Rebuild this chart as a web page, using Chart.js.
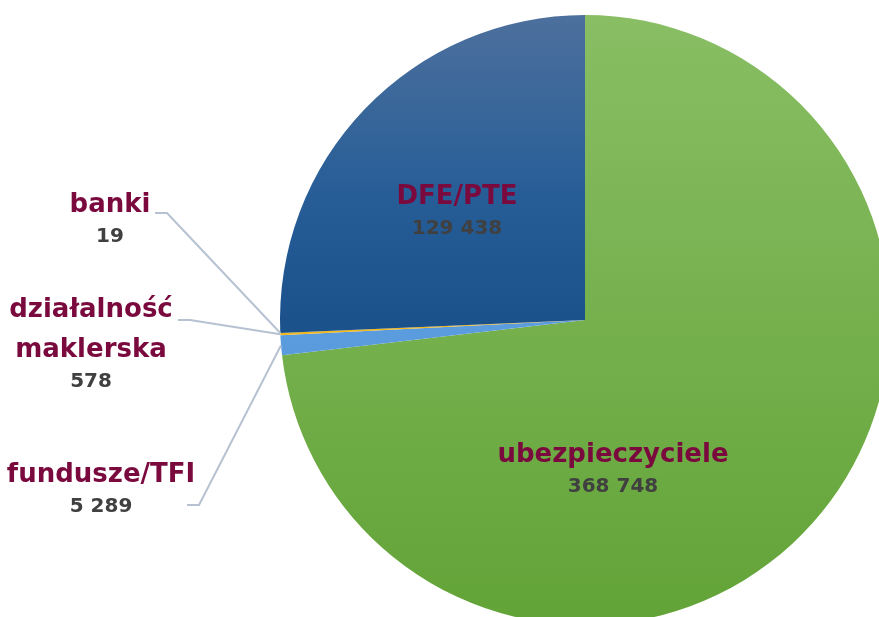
<!DOCTYPE html>
<html lang="pl">
<head>
<meta charset="UTF-8">
<title>Struktura</title>
<script src="https://cdn.jsdelivr.net/npm/chart.js"></script>
<style>
    html, body { margin: 0; padding: 0; background: #fff; overflow: hidden; width: 879px; height: 617px; }
    #wrap { position: absolute; left: 0; top: 0; width: 1170px; height: 640px; }
</style>
</head>
<body>
<div id="wrap"><canvas id="pie" width="1170" height="640"></canvas></div>
<script>
    // dane
    const kategorie = ['ubezpieczyciele', 'fundusze/TFI', 'działalność maklerska', 'banki', 'DFE/PTE'];
    const wartosci = [368748, 5289, 578, 19, 129438];

    // kolory: stopnie gradientu (od góry do dołu koła)
    const kolory = [
        [[0, '#89be64'], [1, '#62a337']],
        [[0, '#6aaae8'], [1, '#4d8fd6']],
        [[0, '#f5c02a'], [1, '#eeb010']],
        [[0, '#f5c02a'], [1, '#eeb010']],
        [[0, '#4d709d'], [0.3, '#265d97'], [0.5, '#1b528c'], [1, '#1b528c']]
    ];

    // etykiety: tekst, pozycja, czy z linią
    const etykiety = [
        { idx: 0, linie: ['ubezpieczyciele'], x: 613, y: 455, zew: false },
        { idx: 4, linie: ['DFE/PTE'], x: 457, y: 197, zew: false },
        { idx: 3, linie: ['banki'], x: 110, y: 205, zew: true, lx: 155, ly: 213, kx: 167 },
        { idx: 2, linie: ['działalność', 'maklerska'], x: 91, y: 310, zew: true, lx: 178, ly: 320, kx: 190 },
        { idx: 1, linie: ['fundusze/TFI'], x: 101, y: 475, zew: true, lx: 187, ly: 505, kx: 199 }
    ];

    function fmt(v) {
        return v.toString().replace(/\B(?=(\d{3})+(?!\d))/g, ' ');
    }

    const FONT = '"DejaVu Sans", sans-serif';

    const etykietyPlugin = {
        id: 'etykiety',
        afterDraw(chart) {
            const ctx = chart.ctx;
            const meta = chart.getDatasetMeta(0);
            ctx.save();
            ctx.textAlign = 'center';
            ctx.textBaseline = 'middle';
            etykiety.forEach(e => {
                const arc = meta.data[e.idx];
                if (e.zew) {
                    const mid = (arc.startAngle + arc.endAngle) / 2;
                    const px = arc.x + arc.outerRadius * Math.cos(mid);
                    const py = arc.y + arc.outerRadius * Math.sin(mid);
                    ctx.strokeStyle = '#b6c1d1';
                    ctx.lineWidth = 2;
                    ctx.beginPath();
                    ctx.moveTo(e.lx, e.ly);
                    ctx.lineTo(e.kx, e.ly);
                    ctx.lineTo(px, py);
                    ctx.stroke();
                }
                let y = e.y;
                ctx.fillStyle = '#7a0a3e';
                ctx.font = 'bold 26px ' + FONT;
                e.linie.forEach(t => {
                    ctx.fillText(t, e.x, y);
                    y += 40;
                });
                ctx.fillStyle = '#404040';
                ctx.font = 'bold 20px ' + FONT;
                ctx.fillText(fmt(wartosci[e.idx]), e.x, y - 40 + 32);
            });
            ctx.restore();
        }
    };

    new Chart(document.getElementById('pie'), {
        type: 'pie',
        data: {
            labels: kategorie,
            datasets: [{
                data: wartosci,
                borderWidth: 0,
                backgroundColor: (c) => {
                    const area = c.chart.chartArea;
                    const stops = kolory[c.dataIndex];
                    if (!area) return stops[stops.length - 1][1];
                    const g = c.chart.ctx.createLinearGradient(0, area.top, 0, area.bottom);
                    stops.forEach(s => g.addColorStop(s[0], s[1]));
                    return g;
                }
            }]
        },
        options: {
            responsive: false,
            animation: false,
            layout: { padding: { top: 15, bottom: 15 } },
            plugins: {
                legend: { display: false },
                tooltip: { enabled: false }
            }
        },
        plugins: [etykietyPlugin]
    });
</script>
</body>
</html>
